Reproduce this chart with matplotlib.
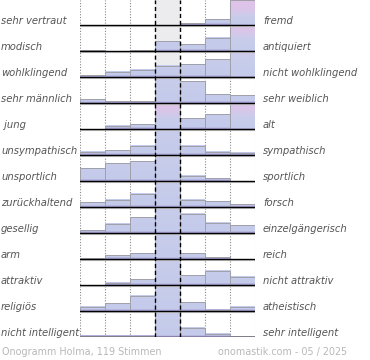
import numpy as np
import matplotlib
matplotlib.use("Agg")
import matplotlib.pyplot as plt
from matplotlib.colors import LinearSegmentedColormap
from matplotlib.patches import Rectangle

left_labels = ["sehr vertraut", "modisch", "wohlklingend", "sehr männlich", " jung",
               "unsympathisch", "unsportlich", "zurückhaltend", "gesellig", "arm",
               "attraktiv", "religiös", "nicht intelligent"]
right_labels = ["fremd", "antiquiert", "nicht wohlklingend", "sehr weiblich", "alt",
                "sympathisch", "sportlich", "forsch", "einzelgängerisch", "reich",
                "nicht attraktiv", "atheistisch", "sehr intelligent"]

# relative bar values per row (7 scale steps); values above 1 are clipped in the drawing
v_vertraut = [0, 0, 0, 0, 0.07, 0.23, 3.0]
v_modisch = [0.03, 0, 0.03, 0.40, 0.27, 0.53, 2.2]
v_wohlklingend = [0.08, 0.21, 0.29, 0.45, 0.52, 0.72, 1.4]
v_maennlich = [0.16, 0.07, 0.07, 1.0, 0.87, 0.36, 0.31]
v_jung = [0, 0.13, 0.19, 2.4, 0.43, 0.59, 2.2]
v_sympathisch = [0.13, 0.20, 0.37, 1.0, 0.37, 0.13, 0.09]
v_sportlich = [0.51, 0.71, 0.80, 1.0, 0.21, 0.11, 0]
v_forsch = [0.20, 0.29, 0.53, 1.0, 0.29, 0.24, 0.12]
v_gesellig = [0.11, 0.37, 0.64, 1.0, 0.78, 0.41, 0.32]
v_arm = [0.03, 0.15, 0.24, 1.0, 0.23, 0.07, 0]
v_attraktiv = [0, 0.09, 0.23, 1.0, 0.39, 0.57, 0.33]
v_religioes = [0.17, 0.31, 0.61, 1.0, 0.36, 0.06, 0.18]
v_intelligent = [0.05, 0.05, 0.05, 1.0, 0.37, 0.13, 0.04]

rows = [v_vertraut, v_modisch, v_wohlklingend, v_maennlich, v_jung, v_sympathisch,
        v_sportlich, v_forsch, v_gesellig, v_arm, v_attraktiv, v_religioes, v_intelligent]

footer_left = "Onogramm Holma, 119 Stimmen"
footer_right = "onomastik.com - 05 / 2025"

W, H = 370, 360
fig = plt.figure(figsize=(W / 100, H / 100), dpi=100)
row_px = 26.0
bottom_px = 337.0
ax = fig.add_axes([80 / W, (H - bottom_px) / H, 175 / W, bottom_px / H])
n = len(rows)
top = bottom_px / row_px
ax.set_xlim(0, 7)
ax.set_ylim(0, top)
ax.axis("off")

vmax = 3.0
cmap = LinearSegmentedColormap.from_list("ono", [
    (0.0, "#a49cd0"),
    (0.08 / vmax, "#c4caea"),
    (1.0 / vmax, "#c8cdeb"),
    (1.7 / vmax, "#d8c6e8"),
    (1.0, "#e2c2e8"),
])

# center column background
ax.add_patch(Rectangle((3, 0), 1, top, facecolor="#ececef", edgecolor="none", zorder=0))

# dotted grid
for x in [0, 1, 2, 5, 6, 7]:
    ax.plot([x, x], [0, top], color="#888888", lw=0.8, ls=(0, (1, 1.5)), zorder=1)

hscale = 25.0 / 26.0
for i, vals in enumerate(rows):
    base = n - 1 - i
    for j, v in enumerate(vals):
        if v <= 0:
            continue
        h = min(v, 1.0) * hscale
        grad = np.linspace(0, v, 100).reshape(-1, 1)
        ax.imshow(grad, cmap=cmap, vmin=0, vmax=vmax, origin="lower",
                  extent=[j, j + 1, base, base + h], aspect="auto",
                  interpolation="nearest", zorder=2)
        ax.add_patch(Rectangle((j, base), 1, h, facecolor="none",
                               edgecolor="#a0a0aa", lw=0.7, zorder=3))
    # shadow and baseline
    ax.plot([0, 7], [base - 0.045, base - 0.045], color="#c8c8c8", lw=0.8, zorder=3.5)
    ax.plot([0, 7], [base, base], color="black", lw=1.0, zorder=4)
    ypix = bottom_px - base * row_px - 4.5
    fig.text(1 / W, 1 - ypix / H, left_labels[i],
             fontsize=7.2, style="italic", color="#555555", ha="left", va="center")
    fig.text(263 / W, 1 - ypix / H, right_labels[i],
             fontsize=7.2, style="italic", color="#555555", ha="left", va="center")

for x in [3, 4]:
    ax.plot([x, x], [0, top], color="black", lw=1.0, ls=(0, (3, 2)), zorder=5)

ax.set_xlim(0, 7)
ax.set_ylim(0, top)

fig.text(2 / W, 1 - 352 / H, footer_left, fontsize=6.9, color="#b8b8b8", ha="left", va="center")
fig.text(347 / W, 1 - 352 / H, footer_right, fontsize=6.9, color="#b8b8b8", ha="right", va="center")

fig.savefig("out.png", dpi=100, facecolor="white")
